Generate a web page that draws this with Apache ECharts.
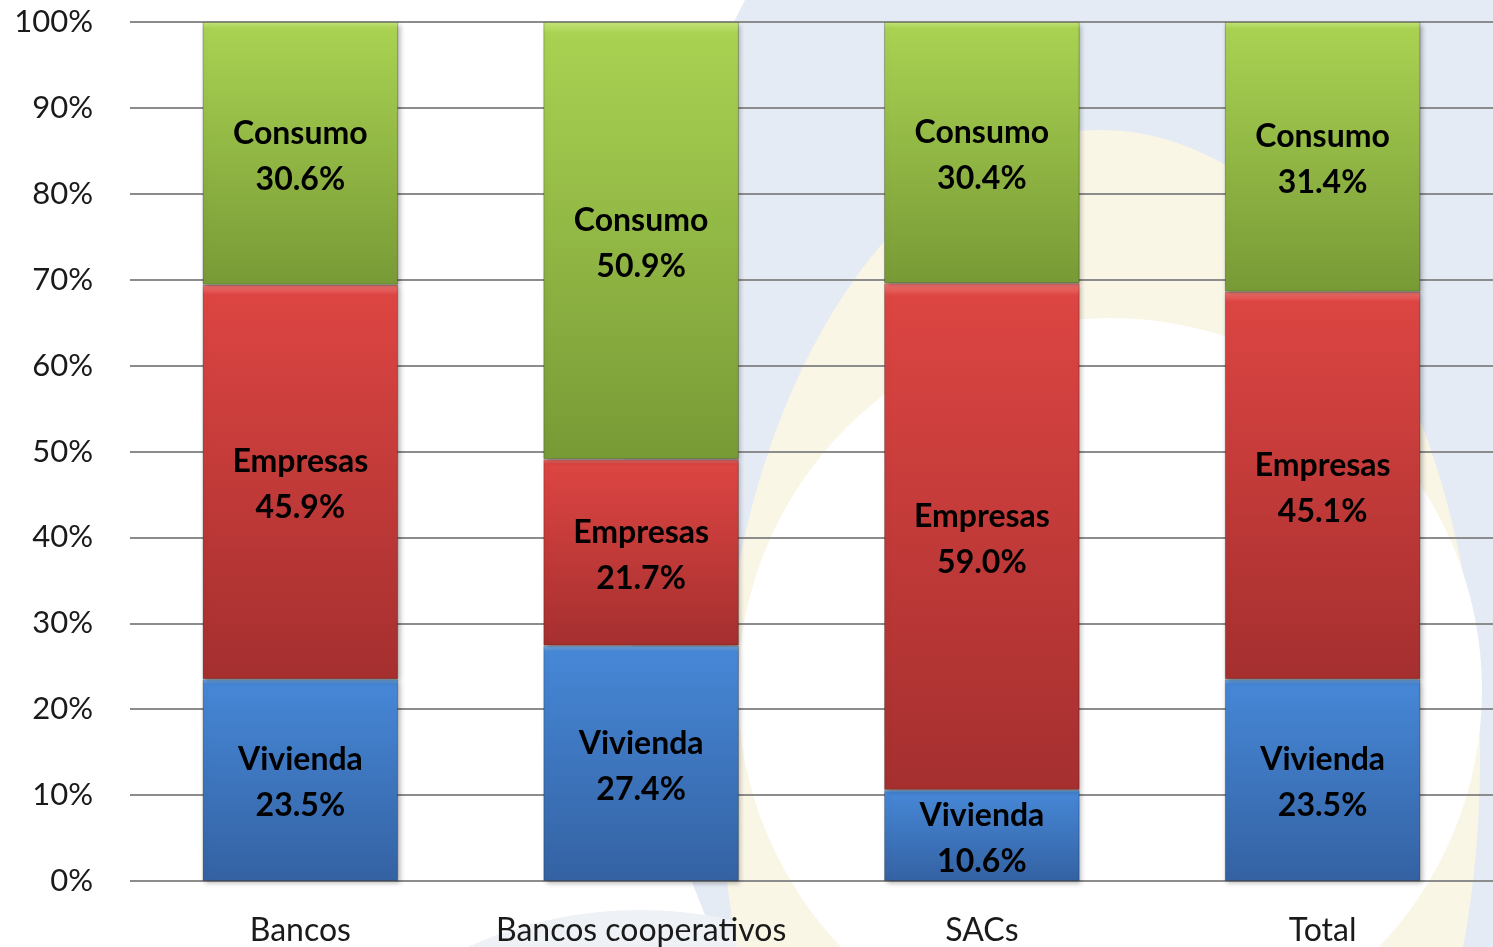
<!DOCTYPE html>
<html>
<head>
<meta charset="utf-8">
<script src="https://cdn.jsdelivr.net/npm/echarts@6/dist/echarts.min.js"></script>
<style>
  html, body { margin: 0; padding: 0; background: #fff; }
  #myChart { width: 1493px; height: 947px; }
</style>
</head>
<body>
<div id="myChart"></div>
<script>
// categorias y porcentajes de cartera por tipo de entidad
var categorias = ['Bancos', 'Bancos cooperativos', 'SACs', 'Total'];
var vivienda = [23.5, 27.4, 10.6, 23.5];
var empresas = [45.9, 21.7, 59.0, 45.1];
var consumo = [30.6, 50.9, 30.4, 31.4];
var yTicks = [0, 10, 20, 30, 40, 50, 60, 70, 80, 90, 100];

var fuente = 'Lato, "Open Sans", sans-serif';

function grad(top, mid, bottom) {
    return new echarts.graphic.LinearGradient(0, 0, 0, 1, [
        { offset: 0, color: top },
        { offset: 0.025, color: mid },
        { offset: 1, color: bottom }
    ]);
}

function etiqueta(nombre) {
    return {
        show: true,
        position: 'inside',
        offset: [0, 3],
        formatter: function(p) { return nombre + '\n' + p.value.toFixed(1) + '%'; },
        fontFamily: fuente,
        fontWeight: 'bold',
        fontSize: 32,
        lineHeight: 46,
        color: '#000'
    };
}

var barStyle = {
    borderColor: 'rgba(0,0,0,0.25)',
    borderWidth: 1,
    shadowBlur: 5,
    shadowOffsetX: 2,
    shadowOffsetY: 2,
    shadowColor: 'rgba(0,0,0,0.3)'
};

var myChart = echarts.init(document.getElementById('myChart'));
var option = {
    animation: false,
    backgroundColor: '#ffffff',
    graphic: [
        // fondo decorativo
        { type: 'circle', z: -10, silent: true, shape: { cx: 1700, cy: 500, r: 1078 }, style: { fill: '#e4ebf5' } },
        { type: 'ellipse', z: -9, silent: true, shape: { cx: 1100, cy: 760, rx: 380, ry: 630 }, style: { fill: '#faf6e6' } },
        { type: 'circle', z: -8, silent: true, shape: { cx: 1110, cy: 690, r: 372 }, style: { fill: '#ffffff' } },
        { type: 'circle', z: -10, silent: true, shape: { cx: 640, cy: 1330, r: 420 }, style: { fill: '#eef1f5' } }
    ],
    grid: { left: 130, right: 0, top: 22, bottom: 65, containLabel: false },
    xAxis: {
        type: 'category',
        data: categorias,
        axisLine: { show: false },
        axisTick: { show: false },
        axisLabel: { interval: 0, fontFamily: fuente, fontSize: 32, color: '#1a1a1a', margin: 34 }
    },
    yAxis: {
        type: 'value',
        min: yTicks[0],
        max: yTicks[yTicks.length - 1],
        interval: 10,
        axisLine: { show: false },
        axisTick: { show: false },
        axisLabel: { fontFamily: fuente, fontSize: 31, color: '#1a1a1a', margin: 37, formatter: '{value}%' },
        splitLine: { lineStyle: { color: '#8c8c8c', width: 2 } }
    },
    series: [{
        name: 'Vivienda',
        type: 'bar',
        stack: 'total',
        barCategoryGap: '42.6%',
        data: vivienda,
        label: etiqueta('Vivienda'),
        itemStyle: Object.assign({ color: grad('#7fb8f0', '#4687d6', '#3462a3') }, barStyle)
    }, {
        name: 'Empresas',
        type: 'bar',
        stack: 'total',
        data: empresas,
        label: etiqueta('Empresas'),
        itemStyle: Object.assign({ color: grad('#f47a76', '#dc4542', '#a52f2f') }, barStyle)
    }, {
        name: 'Consumo',
        type: 'bar',
        stack: 'total',
        data: consumo,
        label: etiqueta('Consumo'),
        itemStyle: Object.assign({ color: grad('#c6e77a', '#a9d252', '#789a36') }, barStyle)
    }]
};
myChart.setOption(option);
</script>
</body>
</html>
